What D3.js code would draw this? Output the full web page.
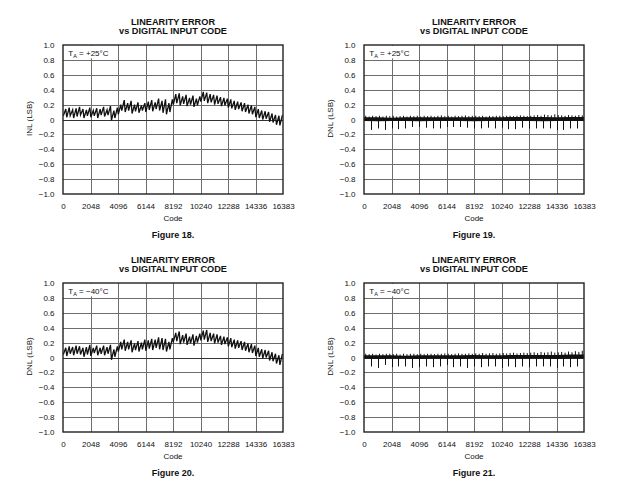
<!DOCTYPE html>
<html><head><meta charset="utf-8">
<script src="https://cdn.jsdelivr.net/npm/d3@7"></script>
<style>
body{margin:0;background:#fff}
svg{display:block}
text{font-family:"Liberation Sans",Arial,Helvetica,sans-serif;fill:#111}
</style>
</head><body>
<svg id="chart" width="620" height="486"></svg>
<script>
// ---------- data ----------
const xTickValues = [0, 2048, 4096, 6144, 8192, 10240, 12288, 14336, 16383];
const xTickLabels = ["0", "2048", "4096", "6144", "8192", "10240", "12288", "14336", "16383"];
const yTickValues = [1, 0.8, 0.6, 0.4, 0.2, 0, -0.2, -0.4, -0.6, -0.8, -1];
const yTickLabels = ["1.0", "0.8", "0.6", "0.4", "0.2", "0", "\u22120.2", "\u22120.4", "\u22120.6", "\u22120.8", "\u22121.0"];
const chartTitle1 = "LINEARITY ERROR";
const chartTitle2 = "vs DIGITAL INPUT CODE";
const xAxisTitle = "Code";
const figureLabels = ["Figure 18.", "Figure 19.", "Figure 20.", "Figure 21."];
const yAxisTitles = ["INL (LSB)", "DNL (LSB)", "DNL (LSB)", "DNL (LSB)"];
const temperatures = ["+25\u00B0C", "+25\u00B0C", "\u221240\u00B0C", "\u221240\u00B0C"];

// INL: one sawtooth per 256 codes, trough then peak (LSB)
const toothCodes = d3.range(64).map(k => k * 256);
const inl25Lo = [0.05,0.03,0.05,0.02,0.04,0.06,0.02,0.05, 0.03,0.05,0.02,0.06,0.04,0.06,-0.01,0.02,
  0.07,0.12,0.10,0.12,0.08,0.11,0.09,0.12, 0.10,0.13,0.11,0.14,0.12,0.09,0.07,0.10,
  0.20,0.22,0.19,0.21,0.18,0.20,0.17,0.19, 0.24,0.25,0.22,0.23,0.20,0.21,0.18,0.19,
  0.16,0.15,0.13,0.14,0.11,0.10,0.08,0.07, 0.03,0.02,0.00,0.01,-0.03,-0.04,-0.07,-0.08];
const inl25Hi = [0.14,0.16,0.13,0.15,0.17,0.14,0.13,0.16, 0.12,0.15,0.14,0.17,0.13,0.18,0.12,0.16,
  0.20,0.26,0.22,0.25,0.20,0.23,0.19,0.22, 0.24,0.26,0.23,0.28,0.25,0.27,0.22,0.27,
  0.34,0.35,0.31,0.33,0.29,0.32,0.28,0.31, 0.37,0.36,0.34,0.33,0.32,0.30,0.29,0.28,
  0.27,0.25,0.24,0.23,0.22,0.20,0.19,0.17, 0.14,0.12,0.11,0.10,0.08,0.06,0.05,0.06];
const inl40Lo = [0.04,0.02,0.05,0.03,0.05,0.04,0.01,0.04, 0.02,0.06,0.03,0.05,0.03,0.05,-0.03,0.01,
  0.08,0.11,0.09,0.11,0.07,0.10,0.08,0.11, 0.09,0.12,0.10,0.13,0.11,0.10,0.08,0.11,
  0.21,0.22,0.18,0.20,0.17,0.19,0.16,0.20, 0.23,0.24,0.21,0.22,0.19,0.20,0.17,0.18,
  0.15,0.14,0.12,0.13,0.10,0.09,0.07,0.06, 0.02,0.01,-0.01,0.00,-0.04,-0.05,-0.08,-0.10];
const inl40Hi = [0.13,0.15,0.14,0.16,0.15,0.13,0.14,0.17, 0.13,0.16,0.13,0.16,0.14,0.17,0.11,0.15,
  0.21,0.24,0.21,0.23,0.19,0.22,0.20,0.24, 0.23,0.25,0.24,0.27,0.26,0.25,0.21,0.26,
  0.33,0.35,0.30,0.32,0.28,0.31,0.29,0.32, 0.36,0.37,0.33,0.32,0.31,0.29,0.28,0.27,
  0.26,0.24,0.23,0.22,0.21,0.19,0.18,0.16, 0.13,0.11,0.10,0.09,0.07,0.05,0.03,0.05];

// DNL: noise band (per 1024 codes), small positive bumps (per 256 codes), negative spikes (per 512 codes)
const bandCodes = [0,1024,2048,3072,4096,5120,6144,7168,8192,9216,10240,11264,12288,13312,14336,15360,16383];
const bumpCodes = d3.range(64).map(k => k * 256 + 128);
const spikeCodes = d3.range(1, 32).map(k => k * 512);
const dnl25BandLo = [-0.02,-0.025,-0.02,-0.02,-0.025,-0.02,-0.02,-0.02,-0.025,-0.02,-0.02,-0.02,-0.02,-0.025,-0.02,-0.02,-0.02];
const dnl25BandHi = [0.03,0.03,0.025,0.03,0.03,0.03,0.03,0.03,0.03,0.03,0.03,0.035,0.035,0.035,0.03,0.035,0.035];
const dnl25Bumps = [0.05,0.04,0.05,0.045,0.05,0.04,0.05,0.045, 0.05,0.04,0.045,0.05,0.04,0.05,0.045,0.05,
  0.04,0.05,0.045,0.05,0.04,0.05,0.055,0.045, 0.05,0.04,0.05,0.045,0.05,0.055,0.045,0.05,
  0.05,0.045,0.05,0.04,0.05,0.045,0.05,0.05, 0.045,0.05,0.05,0.045,0.05,0.055,0.05,0.045,
  0.05,0.055,0.06,0.05,0.065,0.06,0.055,0.07, 0.06,0.055,0.05,0.06,0.055,0.05,0.06,0.055];
const dnl25Spikes = [-0.14,-0.12,-0.14,-0.12,-0.13,-0.12,-0.10,-0.10,-0.11,-0.12,-0.12,-0.10,-0.10,-0.10,-0.11,-0.12,
  -0.12,-0.11,-0.12,-0.11,-0.13,-0.13,-0.11,-0.12,-0.12,-0.12,-0.12,-0.14,-0.14,-0.12,-0.12];
const dnl40BandLo = [-0.015,-0.02,-0.015,-0.015,-0.02,-0.015,-0.015,-0.02,-0.015,-0.015,-0.02,-0.015,-0.015,-0.015,-0.02,-0.015,-0.015];
const dnl40BandHi = [0.03,0.03,0.03,0.025,0.03,0.03,0.03,0.03,0.035,0.03,0.03,0.035,0.035,0.035,0.035,0.04,0.04];
const dnl40Bumps = [0.05,0.045,0.05,0.04,0.05,0.045,0.05,0.05, 0.045,0.05,0.04,0.05,0.045,0.05,0.05,0.045,
  0.05,0.045,0.05,0.05,0.045,0.05,0.05,0.055, 0.05,0.045,0.05,0.055,0.05,0.05,0.055,0.05,
  0.055,0.05,0.06,0.05,0.055,0.06,0.05,0.055, 0.06,0.055,0.06,0.065,0.055,0.06,0.065,0.06,
  0.065,0.07,0.06,0.075,0.065,0.07,0.08,0.065, 0.07,0.075,0.065,0.08,0.07,0.085,0.075,0.09];
const dnl40Spikes = [-0.12,-0.14,-0.10,-0.13,-0.12,-0.12,-0.14,-0.13,-0.12,-0.13,-0.12,-0.10,-0.13,-0.12,-0.14,-0.12,
  -0.13,-0.12,-0.12,-0.14,-0.12,-0.13,-0.12,-0.13,-0.12,-0.12,-0.12,-0.14,-0.12,-0.13,-0.12];

// ---------- layout ----------
const PW = 220, PH = 149;
const panels = [
  {left: 63,  top: 45,  kind: "inl", lo: inl25Lo, hi: inl25Hi},
  {left: 364, top: 45,  kind: "dnl", bandLo: dnl25BandLo, bandHi: dnl25BandHi, bumps: dnl25Bumps, spikes: dnl25Spikes},
  {left: 63,  top: 283, kind: "inl", lo: inl40Lo, hi: inl40Hi},
  {left: 364, top: 283, kind: "dnl", bandLo: dnl40BandLo, bandHi: dnl40BandHi, bumps: dnl40Bumps, spikes: dnl40Spikes}
];

const svg = d3.select("#chart");
svg.append("rect").attr("width", 620).attr("height", 486).attr("fill", "#fff");

panels.forEach((p, i) => {
  const x = d3.scaleLinear().domain([0, 16383]).range([p.left, p.left + PW]);
  const y = d3.scaleLinear().domain([-1, 1]).range([p.top + PH, p.top]);
  const g = svg.append("g");
  const cx = p.left + PW / 2;

  // titles
  g.append("text").attr("x", cx).attr("y", p.top - 20.4).attr("text-anchor", "middle")
    .attr("font-size", 9.2).attr("font-weight", "bold").text(chartTitle1);
  g.append("text").attr("x", cx).attr("y", p.top - 10.6).attr("text-anchor", "middle")
    .attr("font-size", 9.2).attr("font-weight", "bold").text(chartTitle2);

  // grid
  g.append("g").selectAll("line").data(xTickValues.slice(1, -1)).join("line")
    .attr("x1", d => Math.round(x(d)) + 0.5).attr("x2", d => Math.round(x(d)) + 0.5)
    .attr("y1", y(1)).attr("y2", y(-1)).attr("stroke", "#6e6e6e").attr("stroke-width", 1);
  g.append("g").selectAll("line").data(yTickValues.slice(1, -1)).join("line")
    .attr("y1", d => Math.round(y(d)) + 0.5).attr("y2", d => Math.round(y(d)) + 0.5)
    .attr("x1", x(0)).attr("x2", x(16383))
    .attr("stroke", d => d === 0 ? "#333" : "#6e6e6e").attr("stroke-width", 1);

  // legend box
  const lg = g.append("g");
  lg.append("rect").attr("x", p.left + 0.8).attr("y", p.top + 0.8).attr("width", 50).attr("height", 12.5).attr("fill", "#fff");
  const lt = lg.append("text").attr("x", p.left + 5.3).attr("y", p.top + 10.6).attr("font-size", 8);
  lt.append("tspan").text("T");
  lt.append("tspan").attr("font-size", 5.5).attr("dy", 2).text("A");
  lt.append("tspan").attr("dy", -2).text(" = " + temperatures[i]);

  // data
  const clipId = "clip" + i;
  svg.append("clipPath").attr("id", clipId).append("rect")
    .attr("x", p.left).attr("y", p.top).attr("width", PW).attr("height", PH);
  const dg = g.append("g").attr("clip-path", `url(#${clipId})`);

  if (p.kind === "inl") {
    const pts = [];
    toothCodes.forEach((c, k) => {
      pts.push([c + 24, p.lo[k]]);
      pts.push([c + 208, p.hi[k]]);
    });
    dg.append("path").datum(pts)
      .attr("d", d3.line().x(d => x(d[0])).y(d => y(d[1])))
      .attr("fill", "none").attr("stroke", "#111").attr("stroke-width", 1.3).attr("stroke-linejoin", "miter");
  } else {
    const band = bandCodes.map((c, k) => [c, p.bandLo[k], p.bandHi[k]]);
    dg.append("path").datum(band)
      .attr("d", d3.area().x(d => x(d[0])).y0(d => y(d[1])).y1(d => y(d[2])))
      .attr("fill", "#111");
    dg.append("g").selectAll("line").data(bumpCodes.map((c, k) => [c, p.bumps[k]])).join("line")
      .attr("x1", d => x(d[0])).attr("x2", d => x(d[0]))
      .attr("y1", y(0)).attr("y2", d => y(d[1]))
      .attr("stroke", "#111").attr("stroke-width", 1);
    dg.append("g").selectAll("line").data(spikeCodes.map((c, k) => [c, p.spikes[k]])).join("line")
      .attr("x1", d => Math.round(x(d[0])) + 0.5).attr("x2", d => Math.round(x(d[0])) + 0.5)
      .attr("y1", y(0)).attr("y2", d => y(d[1]))
      .attr("stroke", "#111").attr("stroke-width", 1);
  }

  // frame
  g.append("rect").attr("x", p.left).attr("y", p.top).attr("width", PW).attr("height", PH)
    .attr("fill", "none").attr("stroke", "#222").attr("stroke-width", 1.4);

  // axes labels
  const xa = g.append("g").attr("transform", `translate(0,${p.top + PH})`)
    .call(d3.axisBottom(x).tickValues(xTickValues).tickFormat((d, k) => xTickLabels[k]).tickSize(0).tickPadding(9));
  xa.select(".domain").remove();
  xa.selectAll("text").attr("font-size", 8).attr("font-family", null).attr("fill", "#111");
  const ya = g.append("g").attr("transform", `translate(${p.left},0)`)
    .call(d3.axisLeft(y).tickValues(yTickValues).tickFormat((d, k) => yTickLabels[k]).tickSize(0).tickPadding(8.5));
  ya.select(".domain").remove();
  ya.selectAll("text").attr("font-size", 8).attr("font-family", null).attr("fill", "#111");

  g.append("text").attr("x", cx).attr("y", p.top + PH + 27).attr("text-anchor", "middle")
    .attr("font-size", 8).text(xAxisTitle);
  g.append("text").attr("transform", `translate(${p.left - 31},${p.top + PH / 2 - 1}) rotate(-90)`)
    .attr("text-anchor", "middle").attr("font-size", 8).text(yAxisTitles[i]);
  g.append("text").attr("x", cx).attr("y", p.top + PH + 43.5).attr("text-anchor", "middle")
    .attr("font-size", 9).attr("font-weight", "bold").text(figureLabels[i]);
});
</script>
</body></html>
